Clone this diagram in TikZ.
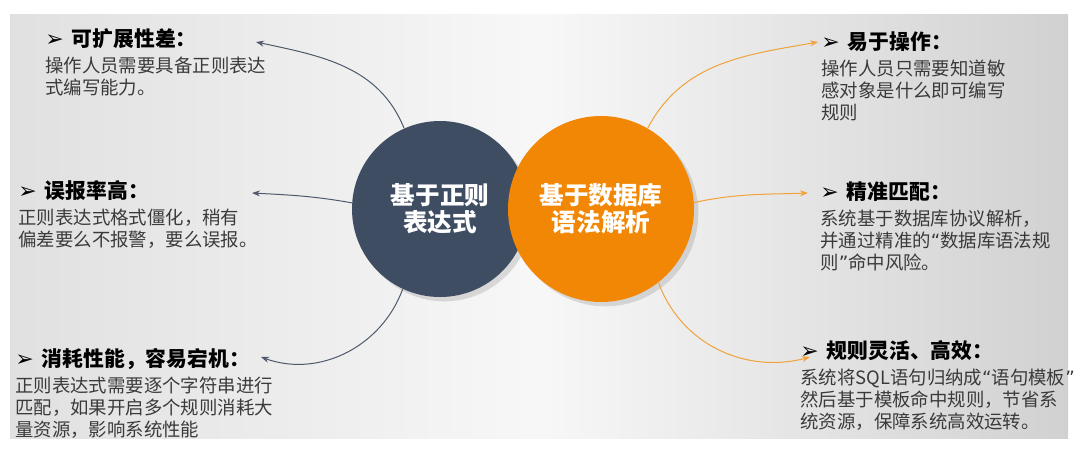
\documentclass[tikz,border=0pt]{standalone}
\usepackage{fontspec}
\newfontfamily\cjk{Noto Sans CJK SC}
\newfontfamily\sym{DejaVu Sans}
\usepackage{tikz}
\usetikzlibrary{arrows.meta, positioning, shadows}
\definecolor{regblue}{HTML}{3F4D62}
\definecolor{dborange}{HTML}{F28705}
\definecolor{lineblue}{HTML}{4E5A6C}
\definecolor{lineorange}{HTML}{F0A33A}
\definecolor{bodygray}{HTML}{3A3A3A}
\newcommand{\headline}[1]{{\color{black}{\sym\bfseries\fontsize{11}{11}\selectfont ➢}\hspace{4pt}{\bfseries\fontsize{10.4}{11}\selectfont #1}}}
\newcommand{\dquote}[1]{{\sym“}#1{\sym”}}

\begin{document}
\begin{tikzpicture}[
        x=0.5pt, y=0.5pt,
        bubble/.style={circle, minimum size=#1, inner sep=0pt, align=center, text=white,
                       font=\cjk\bfseries\fontsize{12.3}{13.6}\selectfont},
        note/.style={anchor=north west, align=left, inner sep=0pt, text=bodygray,
                     font=\cjk\fontsize{9.2}{11}\selectfont},
        bluearrow/.style={-{Stealth[length=4pt, width=3pt]}, lineblue, line width=0.5pt},
        orangearrow/.style={-{Stealth[length=4pt, width=3pt]}, lineorange, line width=0.5pt},
    ]
        \useasboundingbox (0,0) rectangle (1080,452);
        \shade[left color=black!12, right color=black!18, middle color=black!3] (10,14) rectangle (1068,438);

        %--- circles ---
        \node[bubble=88pt, fill=regblue, drop shadow={opacity=0.25}]  (regex)   at (440,243) {基于正则\\表达式};
        \node[bubble=93pt, fill=dborange, drop shadow={opacity=0.25}] (dbparse) at (601,243) {基于数据库\\语法解析};

        %--- left side ---
        \node[note] (ext)  at (45,424) {\headline{可扩展性差：}\\[2pt]操作人员需要具备正则表达\\式编写能力。};
        \node[note] (fp)   at (18,272) {\headline{误报率高：}\\[2pt]正则表达式格式僵化，稍有\\偏差要么不报警，要么误报。};
        \node[note] (perf) at (15,104) {\headline{消耗性能，容易宕机：}\\[2pt]正则表达式需要逐个字符串进行\\匹配，如果开启多个规则消耗大\\量资源，影响系统性能};

        %--- right side ---
        \node[note] (easy)  at (821,421) {\headline{易于操作：}\\[2pt]操作人员只需要知道敏\\感对象是什么即可编写\\规则};
        \node[note] (exact) at (820,271) {\headline{精准匹配：}\\[2pt]系统基于数据库协议解析，\\并通过精准的\dquote{数据库语法规\\则}命中风险。};
        \node[note] (flex)  at (800,112) {\headline{规则灵活、高效：}\\[2pt]系统将SQL语句归纳成\dquote{语句模板}\\然后基于模板命中规则，节省系\\统资源，保障系统高效运转。};

        %--- arrows ---
        \coordinate (ext-tip)   at (256,410);
        \coordinate (fp-tip)    at (252,259);
        \coordinate (perf-tip)  at (261,95);
        \coordinate (easy-tip)  at (818,410);
        \coordinate (exact-tip) at (808,259);
        \coordinate (flex-tip)  at (810,95);

        \draw[bluearrow] (regex.114) to[out=112, in=-12] (ext-tip);
        \draw[bluearrow] (regex.176) to[out=170, in=-3]  (fp-tip);
        \draw[bluearrow] (regex.245) to[out=250, in=-20] (perf-tip);
        \draw[orangearrow] (dbparse.60)  to[out=62, in=190]  (easy-tip);
        \draw[orangearrow] (dbparse.4)   to[out=12, in=182]  (exact-tip);
        \draw[orangearrow] (dbparse.-52) to[out=-70, in=195] (flex-tip);
    \end{tikzpicture}
\end{document}
